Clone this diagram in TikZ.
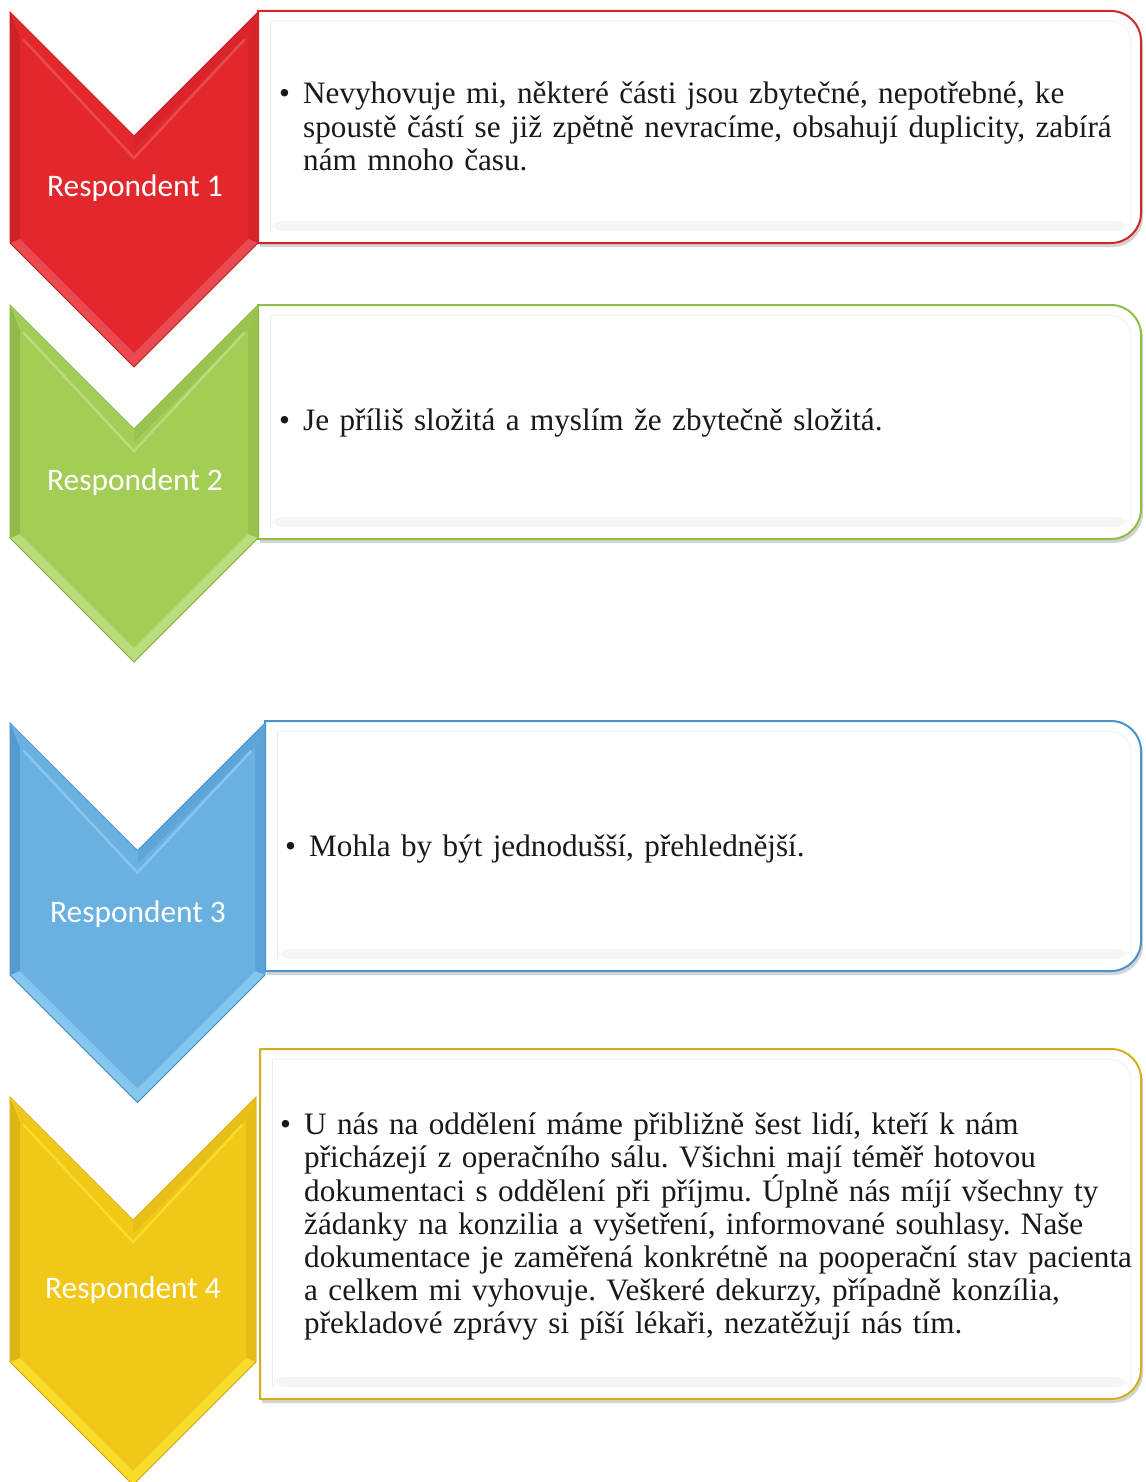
\documentclass[tikz,border=0pt]{standalone}
\usepackage{fontspec}
\setmainfont{Liberation Serif}
\newfontfamily\labelfont{Carlito}
\usetikzlibrary{shadows}
\frenchspacing

\definecolor{redA}{HTML}{E3282D}
\definecolor{redL}{HTML}{EA4A4F}
\definecolor{redD}{HTML}{B71D21}
\definecolor{redB}{HTML}{D2262B}
\definecolor{greenA}{HTML}{A3CD55}
\definecolor{greenL}{HTML}{BBDC7A}
\definecolor{greenD}{HTML}{7FA93B}
\definecolor{greenB}{HTML}{8EBF46}
\definecolor{blueA}{HTML}{69B1E1}
\definecolor{blueL}{HTML}{86C6EE}
\definecolor{blueD}{HTML}{3F86BF}
\definecolor{blueB}{HTML}{4A93CC}
\definecolor{yelA}{HTML}{F1C817}
\definecolor{yelL}{HTML}{F7DC2C}
\definecolor{yelD}{HTML}{C9A313}
\definecolor{yelB}{HTML}{D4AE1C}

% chevron: #1 left, #2 right, #3 top, #4 shoulder, #5 colour prefix
\newcommand\chevronshape[5]{%
  \pgfmathsetmacro\cL{#1}\pgfmathsetmacro\cR{#2}%
  \pgfmathsetmacro\cT{#3}\pgfmathsetmacro\cS{#4}%
  \pgfmathsetmacro\cN{(#1+#2)/2}\pgfmathsetmacro\cH{(#2-#1)/2}%
  \pgfmathsetmacro\cd{10}\pgfmathsetmacro\ce{14.14}%
  % outer bevel band
  \fill[#5L, draw=#5D, line width=0.8bp]
    (\cL,\cT) -- ({\cN},{\cT+\cH}) -- (\cR,\cT) -- (\cR,\cS)
    -- ({\cN},{\cS+\cH}) -- (\cL,\cS) -- cycle;
  % darker side bands
  \fill[#5D!50!#5A]
    (\cL,\cT) -- ({\cL+\cd},{\cT+\cd+\ce}) -- ({\cL+\cd},{\cS+\cd-\ce}) -- (\cL,\cS) -- cycle;
  \fill[#5D!30!#5A]
    (\cR,\cT) -- ({\cR-\cd},{\cT+\cd+\ce}) -- ({\cR-\cd},{\cS+\cd-\ce}) -- (\cR,\cS) -- cycle;
  \fill[#5A]
    (\cL,\cT) -- ({\cN},{\cT+\cH}) -- ({\cN},{\cT+\cH+\ce}) -- ({\cL+\cd},{\cT+\cd+\ce}) -- cycle;
  \fill[#5D!25!#5A]
    (\cR,\cT) -- ({\cN},{\cT+\cH}) -- ({\cN},{\cT+\cH+\ce}) -- ({\cR-\cd},{\cT+\cd+\ce}) -- cycle;
  % bevel face
  \fill[#5A]
    ({\cL+\cd},{\cT+\cd+\ce}) -- ({\cN},{\cT+\cH+\ce}) -- ({\cR-\cd},{\cT+\cd+\ce})
    -- ({\cR-\cd},{\cS+\cd-\ce}) -- ({\cN},{\cS+\cH-\ce}) -- ({\cL+\cd},{\cS+\cd-\ce}) -- cycle;
  % highlight along the inner notch edges
  \draw[#5L, line width=2.5bp, line cap=round]
    ({\cL+\cd+4},{\cT+\cd+\ce+4}) -- ({\cN},{\cT+\cH+\ce+\cd-2}) -- ({\cR-\cd-4},{\cT+\cd+\ce+4});
}

% text panel: #1 left, #2 top, #3 right, #4 bottom, #5 border colour
\newcommand\panelshape[5]{%
  \draw[#5, line width=2bp, fill=white,
        drop shadow={shadow xshift=2bp, shadow yshift=-4bp, opacity=0.3, fill=black!55}]
    (#1,#4) -- (#1,#2) [rounded corners=30bp] -- (#3,#2) -- (#3,#4) [sharp corners] -- cycle;
  % soft inner bevel
  \draw[black!8, line width=1bp]
    ({#1+12},{#4-12}) -- ({#1+12},{#2+10});
  \draw[black!5, line width=1bp]
    ({#1+12},{#2+10}) [rounded corners=22bp] -- ({#3-10},{#2+10}) -- ({#3-10},{#4-12});
  \fill[black!4, rounded corners=10bp]
    ({#1+14},{#4-22}) -- ({#3-14},{#4-22}) -- ({#3-14},{#4-12}) -- ({#1+14},{#4-12}) -- cycle;
}

\tikzset{
  label/.style={font=\labelfont\fontsize{31.5}{34}\selectfont, text=white, inner sep=0pt},
  bodytext/.style={font=\fontsize{31.3}{33.2}\selectfont, text=black!90, anchor=base west,
                   inner sep=0pt, align=left, text width=860bp},
  bulletmark/.style={font=\fontsize{31.3}{33.2}\selectfont, text=black!90, anchor=base west, inner sep=0pt}
}

\begin{document}
\begin{tikzpicture}[x=1bp,y=-1bp]
\useasboundingbox[fill=white] (0,0) rectangle (1145,1482);

% Respondent 1
\panelshape{258}{11}{1141}{243}{redB}
\chevronshape{10}{258}{12}{243}{red}
\node[label] (r1) at (135,188) {Respondent 1};
\node[bulletmark] (b1) at (279,104) {\textbullet};
\node[bodytext] (t1) at (303,104) {Nevyhovuje mi, některé části jsou zbytečné, nepotřebné, ke\\
spoustě částí se již zpětně nevracíme, obsahují duplicity, zabírá\\
nám mnoho času.};

% Respondent 2
\panelshape{258}{305}{1141}{539}{greenB}
\chevronshape{10}{258}{305}{538}{green}
\node[label] (r2) at (135,482) {Respondent 2};
\node[bulletmark] (b2) at (279,430) {\textbullet};
\node[bodytext] (t2) at (303,430) {Je příliš složitá a myslím že zbytečně složitá.};

% Respondent 3
\panelshape{265}{721}{1141}{971}{blueB}
\chevronshape{10}{265}{723}{975}{blue}
\node[label] (r3) at (138,914) {Respondent 3};
\node[bulletmark] (b3) at (285,856) {\textbullet};
\node[bodytext] (t3) at (309,856) {Mohla by být jednodušší, přehlednější.};

% Respondent 4
\panelshape{260}{1049}{1141}{1399}{yelB}
\chevronshape{10}{256}{1097}{1362}{yel}
\node[label] (r4) at (133,1290) {Respondent 4};
\node[bulletmark] (b4) at (280,1134) {\textbullet};
\node[bodytext] (t4) at (304,1134) {U nás na oddělení máme přibližně šest lidí, kteří k nám\\
přicházejí z operačního sálu. Všichni mají téměř hotovou\\
dokumentaci s oddělení při příjmu. Úplně nás míjí všechny ty\\
žádanky na konzilia a vyšetření, informované souhlasy. Naše\\
dokumentace je zaměřená konkrétně na pooperační stav pacienta\\
a celkem mi vyhovuje. Veškeré dekurzy, případně konzília,\\
překladové zprávy si píší lékaři, nezatěžují nás tím.};

\end{tikzpicture}
\end{document}
